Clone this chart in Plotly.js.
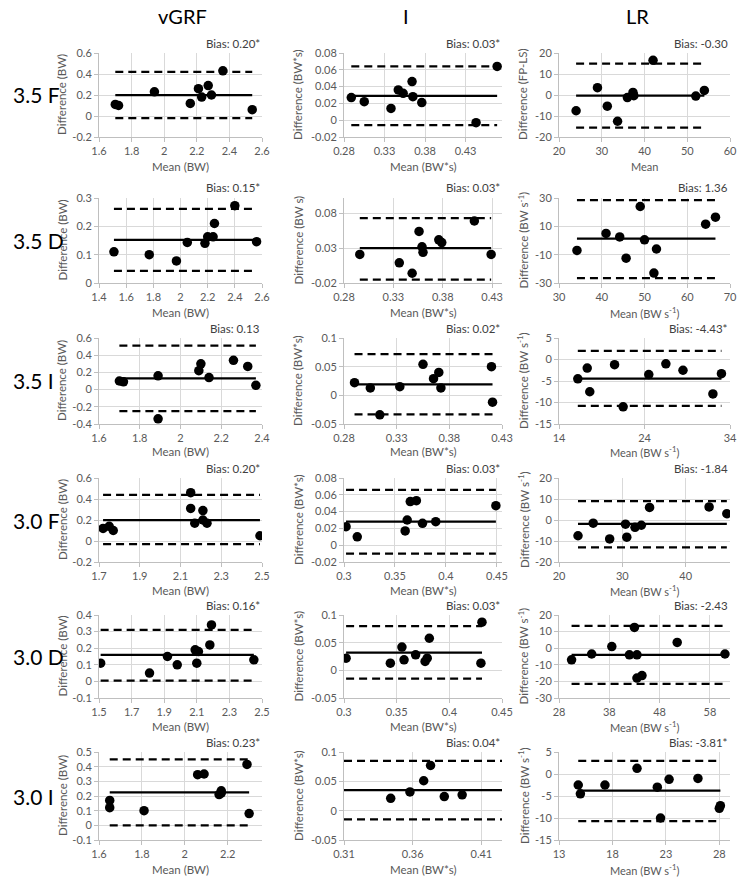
<!DOCTYPE html>
<html><head><meta charset="utf-8">
<script src="https://cdn.plot.ly/plotly-3.0.1.min.js"></script>
<style>html,body{margin:0;padding:0;background:#fff}#chart{width:745px;height:886px}</style>
</head><body><div id="chart"></div>
<script>
// ---------- labels ----------
const rowLabels = ["3.5 F", "3.5 D", "3.5 I", "3.0 F", "3.0 D", "3.0 I"];
const colLabels = ["vGRF", "I", "LR"];
const biasLabels = [
  "Bias: 0.20*", "Bias: 0.03*", "Bias: -0.30",
  "Bias: 0.15*", "Bias: 0.03*", "Bias: 1.36",
  "Bias: 0.13", "Bias: 0.02*", "Bias: -4.43*",
  "Bias: 0.20*", "Bias: 0.03*", "Bias: -1.84",
  "Bias: 0.16*", "Bias: 0.03*", "Bias: -2.43",
  "Bias: 0.23*", "Bias: 0.04*", "Bias: -3.81*"
];

// ---------- 3.5 F ----------
const vgrf35F_mean = [1.70, 1.72, 1.94, 2.16, 2.21, 2.23, 2.27, 2.29, 2.36, 2.54];
const vgrf35F_diff = [0.11, 0.10, 0.23, 0.12, 0.26, 0.18, 0.29, 0.20, 0.43, 0.06];
const vgrf35F_lines = [0.20, 0.42, -0.02];
const imp35F_mean = [0.289, 0.305, 0.338, 0.347, 0.353, 0.364, 0.365, 0.376, 0.443, 0.469];
const imp35F_diff = [0.027, 0.022, 0.014, 0.036, 0.032, 0.046, 0.028, 0.021, -0.003, 0.064];
const imp35F_lines = [0.029, 0.064, -0.006];
const lr35F_mean = [24, 29, 31.3, 33.7, 36, 37.3, 37.5, 42, 52, 54];
const lr35F_diff = [-7.5, 3.5, -5.3, -12.5, -1.2, 1.2, -0.3, 16.5, -0.5, 2.2];
const lr35F_lines = [-0.30, 15, -15.5];

// ---------- 3.5 D ----------
const vgrf35D_mean = [1.51, 1.77, 1.97, 2.05, 2.18, 2.20, 2.24, 2.25, 2.40, 2.56];
const vgrf35D_diff = [0.11, 0.10, 0.078, 0.143, 0.14, 0.163, 0.163, 0.21, 0.273, 0.146];
const vgrf35D_lines = [0.152, 0.262, 0.043];
const imp35D_mean = [0.296, 0.336, 0.349, 0.356, 0.359, 0.360, 0.376, 0.379, 0.412, 0.429];
const imp35D_diff = [0.021, 0.009, -0.006, 0.054, 0.032, 0.024, 0.042, 0.038, 0.069, 0.021];
const imp35D_lines = [0.030, 0.073, -0.015];
const lr35D_mean = [34.2, 41, 44.2, 45.7, 49, 50, 52.2, 52.8, 64.3, 66.6];
const lr35D_diff = [-7, 5, 2.5, -12.5, 24, 0.5, -23, -6, 11.5, 16.5];
const lr35D_lines = [1.36, 28.5, -26.5];

// ---------- 3.5 I ----------
const vgrf35I_mean = [1.70, 1.72, 1.89, 1.89, 2.09, 2.10, 2.14, 2.26, 2.33, 2.37];
const vgrf35I_diff = [0.10, 0.09, 0.16, -0.34, 0.22, 0.30, 0.14, 0.34, 0.27, 0.05];
const vgrf35I_lines = [0.13, 0.51, -0.25];
const imp35I_mean = [0.290, 0.305, 0.314, 0.333, 0.355, 0.365, 0.370, 0.372, 0.420, 0.421];
const imp35I_diff = [0.022, 0.013, -0.034, 0.015, 0.054, 0.029, 0.040, 0.013, 0.050, -0.012];
const imp35I_lines = [0.019, 0.072, -0.033];
const lr35I_mean = [16.2, 17.3, 17.6, 20.5, 21.5, 24.5, 26.5, 28.5, 32, 33];
const lr35I_diff = [-4.5, -2, -7.5, -1.2, -11, -3.5, -1, -2.5, -8, -3.3];
const lr35I_lines = [-4.43, 2, -10.8];

// ---------- 3.0 F ----------
const vgrf30F_mean = [1.72, 1.75, 1.77, 2.15, 2.15, 2.17, 2.21, 2.21, 2.23, 2.49];
const vgrf30F_diff = [0.12, 0.14, 0.10, 0.46, 0.31, 0.17, 0.29, 0.20, 0.17, 0.05];
const vgrf30F_lines = [0.20, 0.44, -0.03];
const imp30F_mean = [0.302, 0.313, 0.360, 0.362, 0.365, 0.371, 0.377, 0.390, 0.449];
const imp30F_diff = [0.022, 0.010, 0.017, 0.030, 0.052, 0.053, 0.026, 0.028, 0.047];
const imp30F_lines = [0.028, 0.066, -0.010];
const lr30F_mean = [23, 25.4, 28, 30.5, 30.7, 32, 33, 34.3, 43.7, 46.5];
const lr30F_diff = [-7.5, -1.5, -9, -2, -8.2, -3.5, -2.5, 6, 6.2, 3];
const lr30F_lines = [-1.84, 9, -13];

// ---------- 3.0 D ----------
const vgrf30D_mean = [1.51, 1.81, 1.92, 1.98, 2.09, 2.10, 2.11, 2.18, 2.19, 2.45];
const vgrf30D_diff = [0.11, 0.05, 0.15, 0.10, 0.19, 0.11, 0.18, 0.22, 0.34, 0.13];
const vgrf30D_lines = [0.16, 0.31, 0.005];
const imp30D_mean = [0.302, 0.344, 0.355, 0.357, 0.368, 0.377, 0.379, 0.381, 0.430, 0.431];
const imp30D_diff = [0.022, 0.013, 0.042, 0.019, 0.028, 0.016, 0.022, 0.058, 0.013, 0.087];
const imp30D_lines = [0.032, 0.080, -0.015];
const lr30D_mean = [30.5, 34.5, 38.5, 42, 43, 43.5, 43.5, 44.5, 51.5, 61];
const lr30D_diff = [-7, -3.5, 1, -4, 12.5, -4, -18, -16.5, 3.5, -3.5];
const lr30D_lines = [-4.0, 13.5, -21.5];

// ---------- 3.0 I ----------
const vgrf30I_mean = [1.65, 1.65, 1.81, 2.06, 2.09, 2.16, 2.17, 2.17, 2.29, 2.30];
const vgrf30I_diff = [0.12, 0.17, 0.10, 0.345, 0.35, 0.21, 0.22, 0.235, 0.415, 0.08];
const vgrf30I_lines = [0.225, 0.45, 0.0];
const imp30I_mean = [0.344, 0.358, 0.368, 0.373, 0.383, 0.396];
const imp30I_diff = [0.021, 0.032, 0.051, 0.077, 0.024, 0.027];
const imp30I_lines = [0.035, 0.085, -0.015];
const lr30I_mean = [14.8, 15, 17.3, 20.3, 22.2, 22.5, 23.3, 26, 28, 28.1];
const lr30I_diff = [-2.5, -4.5, -2.5, 1.3, -3, -10, -1.2, -1, -7.8, -7.2];
const lr30I_lines = [-3.8, 3, -10.7];

// ---------- tick values ----------
const ticks_vgrf35F_x = [1.6, 1.8, 2, 2.2, 2.4, 2.6], ticks_vgrf35F_y = [-0.2, 0, 0.2, 0.4, 0.6];
const ticks_imp35F_x = [0.28, 0.33, 0.38, 0.43], ticks_imp35F_y = [-0.02, 0, 0.02, 0.04, 0.06, 0.08];
const ticks_lr35F_x = [20, 30, 40, 50, 60], ticks_lr35F_y = [-20, -10, 0, 10, 20];
const ticks_vgrf35D_x = [1.4, 1.6, 1.8, 2, 2.2, 2.4, 2.6], ticks_vgrf35D_y = [0, 0.1, 0.2, 0.3];
const ticks_imp35D_x = [0.28, 0.33, 0.38, 0.43], ticks_imp35D_y = [-0.02, 0.03, 0.08];
const ticks_lr35D_x = [30, 40, 50, 60, 70], ticks_lr35D_y = [-30, -10, 10, 30];
const ticks_vgrf35I_x = [1.6, 1.8, 2, 2.2, 2.4], ticks_vgrf35I_y = [-0.4, -0.2, 0, 0.2, 0.4, 0.6];
const ticks_imp35I_x = [0.28, 0.33, 0.38, 0.43], ticks_imp35I_y = [-0.05, 0, 0.05, 0.1];
const ticks_lr35I_x = [14, 24, 34], ticks_lr35I_y = [-15, -10, -5, 0, 5];
const ticks_vgrf30F_x = [1.7, 1.9, 2.1, 2.3, 2.5], ticks_vgrf30F_y = [-0.2, 0, 0.2, 0.4, 0.6];
const ticks_imp30F_x = [0.3, 0.35, 0.4, 0.45], ticks_imp30F_y = [-0.02, 0, 0.02, 0.04, 0.06, 0.08];
const ticks_lr30F_x = [20, 30, 40], ticks_lr30F_y = [-20, -10, 0, 10, 20];
const ticks_vgrf30D_x = [1.5, 1.7, 1.9, 2.1, 2.3, 2.5], ticks_vgrf30D_y = [-0.1, 0, 0.1, 0.2, 0.3, 0.4];
const ticks_imp30D_x = [0.3, 0.35, 0.4, 0.45], ticks_imp30D_y = [-0.05, 0, 0.05, 0.1];
const ticks_lr30D_x = [28, 38, 48, 58], ticks_lr30D_y = [-30, -20, -10, 0, 10, 20];
const ticks_vgrf30I_x = [1.6, 1.8, 2, 2.2], ticks_vgrf30I_y = [-0.1, 0, 0.1, 0.2, 0.3, 0.4, 0.5];
const ticks_imp30I_x = [0.31, 0.36, 0.41], ticks_imp30I_y = [-0.05, 0, 0.05, 0.1];
const ticks_lr30I_x = [13, 18, 23, 28], ticks_lr30I_y = [-15, -10, -5, 0, 5];

// ---------- axis titles ----------
const S1 = "BW s<sup>-1</sup>";
const yTitles = [
  "Difference (BW)", "Difference (BW*s)", "Difference (FP-LS)",
  "Difference (BW)", "Difference (BW s)", "Difference (" + S1 + ")",
  "Difference (BW)", "Difference (BW*s)", "Difference (" + S1 + ")",
  "Difference (BW)", "Difference (BW*s)", "Difference (" + S1 + ")",
  "Difference (BW)", "Difference (BW*s)", "Difference (" + S1 + ")",
  "Difference (BW)", "Difference (BW*s)", "Difference (" + S1 + ")"
];
const xTitles = [
  "Mean (BW)", "Mean (BW*s)", "Mean",
  "Mean (BW)", "Mean (BW*s)", "Mean (" + S1 + ")",
  "Mean (BW)", "Mean (BW*s)", "Mean (" + S1 + ")",
  "Mean (BW)", "Mean (BW*s)", "Mean (" + S1 + ")",
  "Mean (BW)", "Mean (BW*s)", "Mean (" + S1 + ")",
  "Mean (BW)", "Mean (BW*s)", "Mean (" + S1 + ")"
];

// ---------- panels (data references + axis extents) ----------
const panels = [
  {x: vgrf35F_mean, y: vgrf35F_diff, l: vgrf35F_lines, xt: ticks_vgrf35F_x, yt: ticks_vgrf35F_y, xr: [1.6, 2.6], yr: [-0.2, 0.6]},
  {x: imp35F_mean, y: imp35F_diff, l: imp35F_lines, xt: ticks_imp35F_x, yt: ticks_imp35F_y, xr: [0.28, 0.475], yr: [-0.02, 0.08]},
  {x: lr35F_mean, y: lr35F_diff, l: lr35F_lines, xt: ticks_lr35F_x, yt: ticks_lr35F_y, xr: [20, 60], yr: [-20, 20]},
  {x: vgrf35D_mean, y: vgrf35D_diff, l: vgrf35D_lines, xt: ticks_vgrf35D_x, yt: ticks_vgrf35D_y, xr: [1.4, 2.6], yr: [0, 0.3]},
  {x: imp35D_mean, y: imp35D_diff, l: imp35D_lines, xt: ticks_imp35D_x, yt: ticks_imp35D_y, xr: [0.28, 0.44], yr: [-0.02, 0.102]},
  {x: lr35D_mean, y: lr35D_diff, l: lr35D_lines, xt: ticks_lr35D_x, yt: ticks_lr35D_y, xr: [30, 70], yr: [-30, 30]},
  {x: vgrf35I_mean, y: vgrf35I_diff, l: vgrf35I_lines, xt: ticks_vgrf35I_x, yt: ticks_vgrf35I_y, xr: [1.6, 2.4], yr: [-0.4, 0.6]},
  {x: imp35I_mean, y: imp35I_diff, l: imp35I_lines, xt: ticks_imp35I_x, yt: ticks_imp35I_y, xr: [0.28, 0.43], yr: [-0.05, 0.1]},
  {x: lr35I_mean, y: lr35I_diff, l: lr35I_lines, xt: ticks_lr35I_x, yt: ticks_lr35I_y, xr: [14, 34], yr: [-15, 5]},
  {x: vgrf30F_mean, y: vgrf30F_diff, l: vgrf30F_lines, xt: ticks_vgrf30F_x, yt: ticks_vgrf30F_y, xr: [1.7, 2.5], yr: [-0.2, 0.6]},
  {x: imp30F_mean, y: imp30F_diff, l: imp30F_lines, xt: ticks_imp30F_x, yt: ticks_imp30F_y, xr: [0.3, 0.455], yr: [-0.02, 0.08]},
  {x: lr30F_mean, y: lr30F_diff, l: lr30F_lines, xt: ticks_lr30F_x, yt: ticks_lr30F_y, xr: [20, 47], yr: [-20, 20]},
  {x: vgrf30D_mean, y: vgrf30D_diff, l: vgrf30D_lines, xt: ticks_vgrf30D_x, yt: ticks_vgrf30D_y, xr: [1.5, 2.5], yr: [-0.1, 0.4]},
  {x: imp30D_mean, y: imp30D_diff, l: imp30D_lines, xt: ticks_imp30D_x, yt: ticks_imp30D_y, xr: [0.3, 0.45], yr: [-0.05, 0.1]},
  {x: lr30D_mean, y: lr30D_diff, l: lr30D_lines, xt: ticks_lr30D_x, yt: ticks_lr30D_y, xr: [28, 62], yr: [-30, 20]},
  {x: vgrf30I_mean, y: vgrf30I_diff, l: vgrf30I_lines, xt: ticks_vgrf30I_x, yt: ticks_vgrf30I_y, xr: [1.6, 2.36], yr: [-0.1, 0.5]},
  {x: imp30I_mean, y: imp30I_diff, l: imp30I_lines, xt: ticks_imp30I_x, yt: ticks_imp30I_y, xr: [0.31, 0.425], yr: [-0.05, 0.1], span: [0.31, 0.425]},
  {x: lr30I_mean, y: lr30I_diff, l: lr30I_lines, xt: ticks_lr30I_x, yt: ticks_lr30I_y, xr: [13, 29], yr: [-15, 5]}
];

// ---------- geometry (pixels) ----------
const W = 745, H = 886;
const colPx = [[99, 262], [344, 502], [559, 730]];
const rowPx = [[53, 137], [198, 283], [338, 424], [478, 562], [615, 698], [752, 840]];
const xTitleGap = [30, 30, 28, 28, 28, 29];
const yTitleX = [62, 298, 523];
const headerX = [182, 406, 637];
const FONT = "Lato, 'Liberation Sans', sans-serif";
const GREY = "#595959";

const traces = [];
const layout = {
  width: W, height: H, margin: {l: 0, r: 0, t: 0, b: 0},
  paper_bgcolor: "#fff", plot_bgcolor: "#fff", showlegend: false,
  font: {family: FONT, color: GREY, size: 11},
  annotations: []
};

panels.forEach((p, i) => {
  const r = Math.floor(i / 3), c = i % 3;
  const n = i + 1;
  const xa = "x" + (n > 1 ? n : ""), ya = "y" + (n > 1 ? n : "");
  const [L, R] = colPx[c], [T, B] = rowPx[r];
  const tickStyle = {
    showgrid: true, gridcolor: "#d9d9d9", gridwidth: 1, zeroline: false,
    showline: true, linecolor: "#bfbfbf", linewidth: 1,
    ticks: "outside", ticklen: 4, tickcolor: "#bfbfbf",
    tickfont: {family: FONT, size: 11, color: GREY}, fixedrange: true
  };
  layout["xaxis" + (n > 1 ? n : "")] = Object.assign({}, tickStyle, {
    domain: [L / W, R / W], range: p.xr, anchor: ya,
    tickmode: "array", tickvals: p.xt, ticktext: p.xt.map(String)
  });
  layout["yaxis" + (n > 1 ? n : "")] = Object.assign({}, tickStyle, {
    domain: [1 - B / H, 1 - T / H], range: p.yr, anchor: xa,
    tickmode: "array", tickvals: p.yt, ticktext: p.yt.map(String)
  });
  const span = p.span || [Math.min(...p.x), Math.max(...p.x)];
  // limits of agreement (dashed)
  [1, 2].forEach(k => traces.push({
    type: "scatter", mode: "lines", x: span, y: [p.l[k], p.l[k]], xaxis: xa, yaxis: ya,
    line: {color: "#000", width: 2.25, dash: "8px,5px"}, hoverinfo: "skip"
  }));
  // bias (solid)
  traces.push({
    type: "scatter", mode: "lines", x: span, y: [p.l[0], p.l[0]], xaxis: xa, yaxis: ya,
    line: {color: "#000", width: 2.25}, hoverinfo: "skip"
  });
  // points
  traces.push({
    type: "scatter", mode: "markers", x: p.x, y: p.y, xaxis: xa, yaxis: ya,
    marker: {color: "#000", size: 9.5}
  });
  // bias label
  layout.annotations.push({
    xref: "paper", yref: "paper", x: R / W, y: 1 - (T - 10) / H,
    xanchor: "right", yanchor: "middle", showarrow: false,
    text: biasLabels[i], font: {family: FONT, size: 11.5, color: "#404040"}
  });
  // x title
  layout.annotations.push({
    xref: "paper", yref: "paper", x: (L + R) / 2 / W, y: 1 - (B + xTitleGap[r]) / H,
    xanchor: "center", yanchor: "middle", showarrow: false,
    text: xTitles[i], font: {family: FONT, size: c === 2 ? 11 : 11.5, color: GREY}
  });
  // y title
  layout.annotations.push({
    xref: "paper", yref: "paper", x: yTitleX[c] / W, y: 1 - (T + B) / 2 / H,
    xanchor: "center", yanchor: "middle", showarrow: false, textangle: -90,
    text: yTitles[i], font: {family: FONT, size: 11.5, color: GREY}
  });
});

// column headers
colLabels.forEach((t, c) => layout.annotations.push({
  xref: "paper", yref: "paper", x: headerX[c] / W, y: 1 - 16 / H,
  xanchor: "center", yanchor: "middle", showarrow: false,
  text: t, font: {family: FONT, size: 20, color: "#000"}
}));
// row labels
rowLabels.forEach((t, r) => layout.annotations.push({
  xref: "paper", yref: "paper", x: 11 / W, y: 1 - (rowPx[r][0] + rowPx[r][1]) / 2 / H,
  xanchor: "left", yanchor: "middle", showarrow: false,
  text: t, font: {family: FONT, size: 21, color: "#000"}
}));

Plotly.newPlot("chart", traces, layout, {staticPlot: true, displayModeBar: false});
</script></body></html>
